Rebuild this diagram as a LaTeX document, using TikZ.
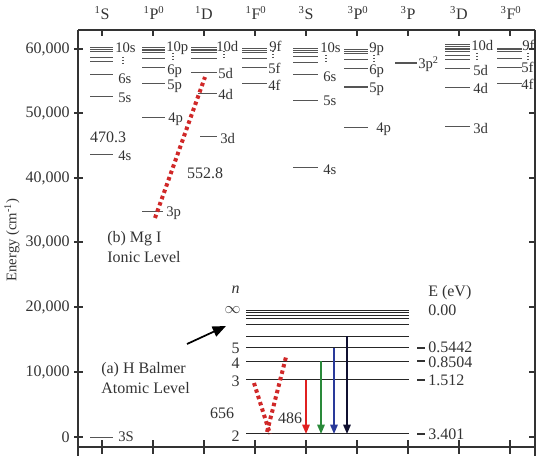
\documentclass[tikz,border=0pt]{standalone}
\usepackage{fontspec}
\setmainfont{Liberation Serif}
\usetikzlibrary{arrows.meta}
\definecolor{ink}{HTML}{333333}
\definecolor{lvlgray}{HTML}{555555}
\definecolor{dotred}{HTML}{D02828}
\definecolor{arrred}{HTML}{E02020}
\definecolor{arrgreen}{HTML}{2A8A3A}
\definecolor{arrblue}{HTML}{2A3A9A}
\definecolor{arrnavy}{HTML}{101030}
\begin{document}
\begin{tikzpicture}[x=0.75pt,y=-0.75pt,
  frame/.style={draw=ink,line width=1.4pt},
  lvl/.style={draw=lvlgray,line width=0.75pt},
  lvlthick/.style={draw=lvlgray,line width=1.4pt},
  hlvl/.style={draw=black!85,line width=0.7pt},
  vd/.style={draw=lvlgray,line width=1pt,dash pattern=on 0.9pt off 1.3pt},
  reddots/.style={draw=dotred,line width=3pt,dash pattern=on 2.6pt off 2.4pt},
  lab/.style={font=\fontsize{11}{12}\selectfont,text=ink,inner sep=0pt},
  txt/.style={font=\fontsize{12}{14}\selectfont,text=ink,inner sep=0pt},
  tick/.style={draw=ink,line width=1.2pt},
  emarrow/.style={line width=1.4pt,-{Triangle[length=7pt,width=5.5pt]}}]
\useasboundingbox (0,0) rectangle (545,470);

% ---- frame
\draw[frame] (78,30) -- (535,30);
\draw[frame] (78,30) -- (78,456);
\draw[frame] (535,30) -- (535,456);
\draw[frame] (78,447) -- (535,447);
\foreach \x in {102,153,204,255,306,357,408,459,510} {
  \draw[tick] (\x,30) -- (\x,36);
  \draw[tick] (\x,440) -- (\x,454);
}
\foreach \y/\t in {49/{60,000},113/{50,000},178/{40,000},242/{30,000},307/{20,000},372/{10,000},437/{0}} {
  \draw[tick] (74,\y) -- (83,\y);
  \draw[tick] (535,\y) -- (529,\y);
  \node[txt,anchor=east] at (70,\y) {\t};
}
\node[lab,rotate=90] (ylab) at (12,240) {Energy (cm\textsuperscript{-1})};

% ---- column headers
\node[txt] (hS1) at (102,13) {\textsuperscript{1}S};
\node[txt] (hP1) at (154,13) {\textsuperscript{1}P\textsuperscript{0}};
\node[txt] (hD1) at (204,13) {\textsuperscript{1}D};
\node[txt] (hF1) at (256,13) {\textsuperscript{1}F\textsuperscript{0}};
\node[txt] (hS3) at (306,13) {\textsuperscript{3}S};
\node[txt] (hP3) at (358,13) {\textsuperscript{3}P\textsuperscript{0}};
\node[txt] (hPP) at (408,13) {\textsuperscript{3}P};
\node[txt] (hD3) at (459,13) {\textsuperscript{3}D};
\node[txt] (hF3) at (511,13) {\textsuperscript{3}F\textsuperscript{0}};

% ---- 1S
\foreach \y in {48,50,52,58,62,74.5,97,155} \draw[lvl] (90,\y) -- (113,\y);
\draw[lvl] (90,437) -- (113,437);
\draw[vd] (123,57) -- (123,65);
\node[lab,anchor=west] (s10) at (115,48) {10s};
\node[lab,anchor=west] (s6) at (118,79) {6s};
\node[lab,anchor=west] (s5) at (118,98) {5s};
\node[lab,anchor=west] (s4) at (118,156) {4s};
\node[lab,anchor=west] (s3) at (118,437) {3S};

% ---- 1P0
\foreach \y in {48,49.5,51,53,59,67.5,84,117.5} \draw[lvl] (142,\y) -- (165,\y);
\draw[lvl] (142,211) -- (163,211);
\draw[vd] (173,53) -- (173,61);
\node[lab,anchor=west] (p10) at (166,48) {10p};
\node[lab,anchor=west] (p6) at (167,71) {6p};
\node[lab,anchor=west] (p5) at (167,86) {5p};
\node[lab,anchor=west] (p4) at (168,119) {4p};
\node[lab,anchor=west] (p3) at (166,213) {3p};

% ---- 1D
\foreach \y in {48,51,53,58.7,72.7} \draw[lvl] (191,\y) -- (217,\y);
\draw[lvlthick] (191,49.5) -- (217,49.5);
\draw[lvl] (198,94) -- (217,94);
\draw[lvl] (200,136.7) -- (217,136.7);
\draw[vd] (224,51) -- (224,59);
\node[lab,anchor=west] (d10) at (216,46) {10d};
\node[lab,anchor=west] (d5) at (218,73) {5d};
\node[lab,anchor=west] (d4) at (218,94) {4d};
\node[lab,anchor=west] (d3) at (220,138) {3d};

% ---- 1F0
\foreach \y in {48.5,50.3,52.3,58.5,68,83.3} \draw[lvl] (242,\y) -- (267,\y);
\draw[vd] (273,51) -- (273,58);
\node[lab,anchor=west] (f9) at (269,46) {9f};
\node[lab,anchor=west] (f5) at (268,68) {5f};
\node[lab,anchor=west] (f4) at (268,85) {4f};

% ---- 3S
\foreach \y in {49,50.7,52.3,57,62.3,75,101,168} \draw[lvl] (293,\y) -- (318,\y);
\draw[vd] (326,55) -- (326,63);
\node[lab,anchor=west] (ts10) at (320,48) {10s};
\node[lab,anchor=west] (ts6) at (323,77) {6s};
\node[lab,anchor=west] (ts5) at (323,101) {5s};
\node[lab,anchor=west] (ts4) at (323,170) {4s};

% ---- 3P0
\foreach \y in {50,52,54,60,68.7,127.7} \draw[lvl] (344,\y) -- (368,\y);
\draw[lvlthick] (344,86.7) -- (368,86.7);
\draw[vd] (374,55) -- (374,63);
\node[lab,anchor=west] (tp9) at (369,49) {9p};
\node[lab,anchor=west] (tp6) at (369,71) {6p};
\node[lab,anchor=west] (tp5) at (369,89) {5p};
\node[lab,anchor=west] (tp4) at (376,129) {4p};

% ---- 3P
\draw[lvlthick] (395,62.7) -- (417,62.7);
\node[lab,anchor=west] (pp3) at (418,64) {3p\textsuperscript{2}};

% ---- 3D
\foreach \y in {45,46.7,48.3,50,51.7,56,59.3,69,87.3,126.7} \draw[lvl] (445,\y) -- (470,\y);
\draw[vd] (477,53) -- (477,61);
\node[lab,anchor=west] (td10) at (471,45) {10d};
\node[lab,anchor=west] (td5) at (473,70) {5d};
\node[lab,anchor=west] (td4) at (473,88) {4d};
\node[lab,anchor=west] (td3) at (473,128) {3d};

% ---- 3F0
\foreach \y in {48.3,50,52,58.3,67.7,83.3} \draw[lvl] (497,\y) -- (522,\y);
\draw[vd] (528,53) -- (528,60);
\node[lab,anchor=west] (tf9) at (522,45) {9f};
\node[lab,anchor=west] (tf5) at (521,67) {5f};
\node[lab,anchor=west] (tf4) at (521,84) {4f};

% ---- Mg transition
\coordinate (mgA) at (155,218);
\coordinate (mgB) at (205,77);
\draw[reddots] (mgA) -- (mgB);
\node[txt] (w470) at (108,137) {470.3};
\node[txt] (w552) at (205,173) {552.8};
\node[txt,anchor=west] (mgt1) at (107,239) {(b) Mg I};
\node[txt,anchor=west] (mgt2) at (107,257) {Ionic Level};

% ---- H Balmer
\node[txt,anchor=west] (ht1) at (101,370) {(a) H Balmer};
\node[txt,anchor=west] (ht2) at (101,388) {Atomic Level};
\coordinate (bigA) at (187,344);
\coordinate (bigB) at (226,326);
\draw[black,line width=1.3pt,-{Triangle[length=10pt,width=8pt]}] (bigA) -- (bigB);

\foreach \y in {310,312.5,315,318,324,336.3,347.7,361,379.5,433.7} \draw[hlvl] (246,\y) -- (409,\y);
\node[txt,anchor=east,font=\fontsize{12}{14}\itshape] (nn) at (240,290) {n};
\node[txt,anchor=east] (ninf) at (241,310) {$\infty$};
\node[txt,anchor=east] (n5) at (240,348) {5};
\node[txt,anchor=east] (n4) at (240,363) {4};
\node[txt,anchor=east] (n3) at (240,381) {3};
\node[txt,anchor=east] (n2) at (240,436) {2};

\node[txt,anchor=west] (eev) at (428,293) {E (eV)};
\node[txt,anchor=west] (e0) at (428,310) {0.00};
\foreach \y/\ty/\t/\nm in {348/347/0.5442/ea,361/362/0.8504/eb,380/380/1.512/ec,434/434/3.401/ed} {
  \draw[ink,line width=1pt] (417,\y) -- (425,\y);
  \node[txt,anchor=west] (\nm) at (428,\ty) {\t};
}

\coordinate (r3) at (306,379.5); \coordinate (r2) at (306,434);
\coordinate (g4) at (321,361);   \coordinate (g2) at (321,434);
\coordinate (b5) at (334,347.7); \coordinate (b2) at (334,434);
\coordinate (k6) at (347,336.3); \coordinate (k2) at (347,434);
\draw[emarrow,arrred] (r3) -- (r2);
\draw[emarrow,arrgreen] (g4) -- (g2);
\draw[emarrow,arrblue] (b5) -- (b2);
\draw[emarrow,arrnavy] (k6) -- (k2);

\coordinate (h656a) at (254,383); \coordinate (h656b) at (270,434);
\coordinate (h486a) at (267,432); \coordinate (h486b) at (286,357);
\draw[reddots] (h656a) -- (h656b);
\draw[reddots] (h486a) -- (h486b);
\node[txt] (w656) at (222,413) {656};
\node[txt] (w486) at (290,418) {486};
\end{tikzpicture}
\end{document}
